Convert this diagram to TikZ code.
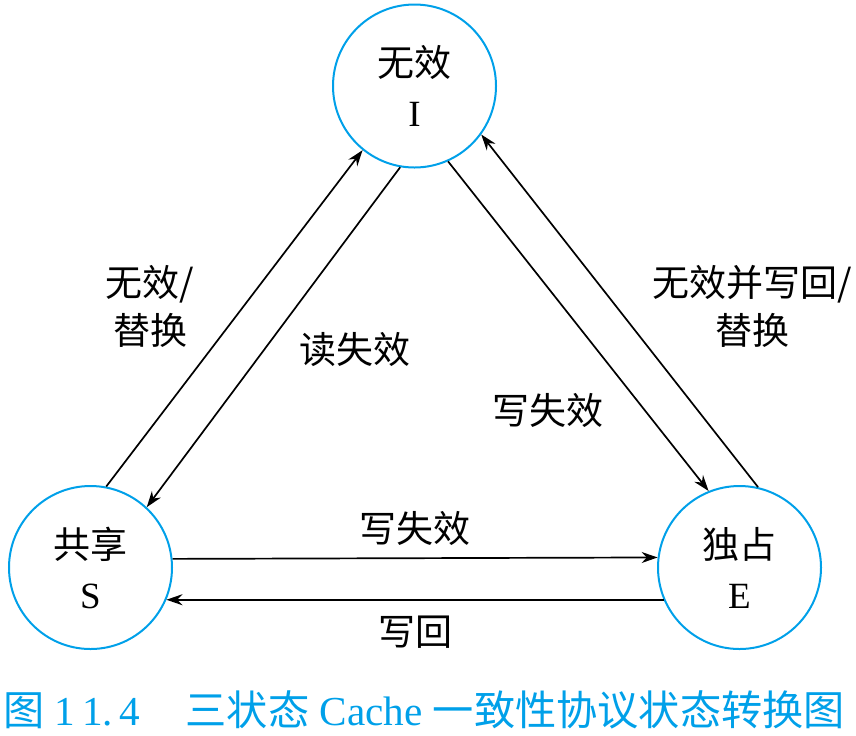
\documentclass[tikz,border=0pt]{standalone}
\usepackage{fontspec}
\setmainfont{Liberation Serif}
\newfontfamily\cjk{Noto Sans CJK SC}
\usetikzlibrary{arrows.meta,positioning}
\definecolor{cacheblue}{RGB}{0,160,233}
\newcommand{\statefont}{\fontsize{18.5}{24}\selectfont}
\newcommand{\capfont}{\fontsize{20.6}{24}\selectfont}

\begin{document}
\begin{tikzpicture}[x=0.5pt,y=-0.5pt,
  state/.style={circle,draw=cacheblue,line width=1pt,minimum size=81.5pt,
                inner sep=0pt,align=center,font=\statefont},
  trans/.style={-{Stealth[length=8pt,width=5.5pt]},line width=0.85pt},
  lbl/.style={align=center,font=\statefont}]
\useasboundingbox (0,0) rectangle (856,735);

\node[state] (I) at (414.5,86) {{\cjk 无效}\\[1pt]I};
\node[state] (S) at (90.5,567.5) {{\cjk 共享}\\[1pt]S};
\node[state] (E) at (739.5,567.5) {{\cjk 独占}\\[1pt]E};

\draw[trans] (S.79) -- (I.231);
\draw[trans] (I.260) -- (S.47);
\draw[trans] (I.294) -- (E.112);
\draw[trans] (E.77) -- (I.324);
\draw[trans] (S.6.7) -- (E.173.3);
\draw[trans] (E.203.5) -- (S.-23.5);

\node[lbl] (l1) at (150,306) {\cjk 无效/\\\cjk 替换};
\node[lbl] (l2) at (355,350) {\cjk 读失效};
\node[lbl] (l3) at (548,410) {\cjk 写失效};
\node[lbl] (l4) at (752,306) {\cjk 无效并写回/\\\cjk 替换};
\node[lbl] (l5) at (415,528) {\cjk 写失效};
\node[lbl] (l6) at (415,632) {\cjk 写回};

\node[lbl,font=\capfont,text=cacheblue] (cap) at (424,710)
  {{\cjk 图} 1\,1.\,4\hspace{1.1em}{\cjk 三状态} Cache {\cjk 一致性协议状态转换图}};
\end{tikzpicture}
\end{document}
